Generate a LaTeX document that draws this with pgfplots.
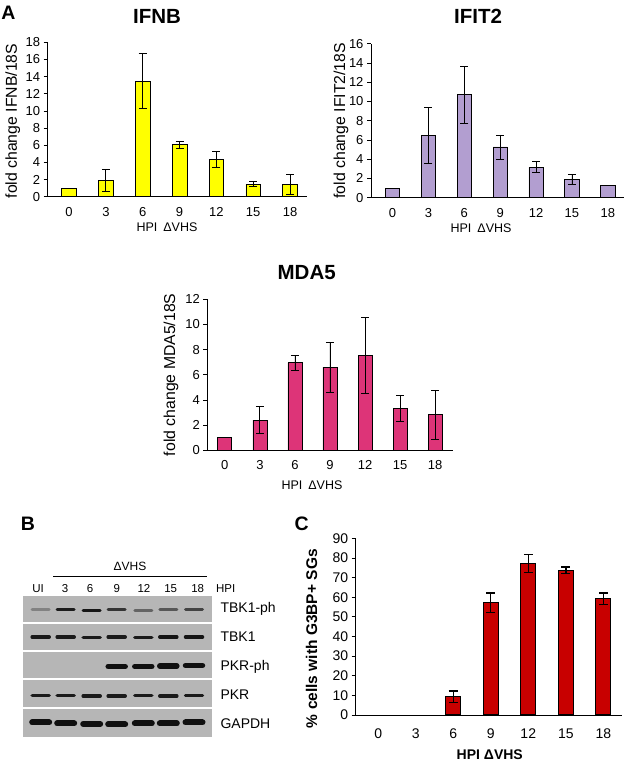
\documentclass[border=0pt]{standalone}
\usepackage{fontspec}
\setmainfont{Liberation Sans}
\usepackage{pgfplots}
\pgfplotsset{compat=1.18}

\definecolor{ifnbcol}{RGB}{255,255,0}
\definecolor{ifitcol}{RGB}{178,158,208}
\definecolor{mdacol}{RGB}{221,52,120}
\definecolor{sgcol}{RGB}{200,0,0}
\definecolor{blotbg}{RGB}{182,182,182}

\pgfplotsset{
  foldbar/.style={
    scale only axis, axis lines*=left, ymin=0,
    xtick={0,...,6}, xticklabels={0,3,6,9,12,15,18},
    major x tick style={draw=none},
    ytick style={black, line width=0.7pt},
    major tick length=4pt, tick align=outside,
    axis line style={black, line width=0.8pt},
    tick label style={font=\fontsize{13}{15}\selectfont},
    /pgf/number format/assume math mode=true,
    xticklabel style={yshift=-3pt},
    ylabel style={font=\fontsize{15.8}{18}\selectfont, anchor=center},
    xlabel style={font=\fontsize{12.5}{14}\selectfont, anchor=center},
    clip=false,
  },
  bars/.style={ybar, bar width=0.4, bar shift=0pt, draw=black, line width=0.7pt},
  errs/.style={error bars/.cd, y dir=both, y explicit,
    error bar style={black, line width=0.8pt},
    error mark options={black, line width=0.8pt, mark size=4pt, rotate=90}},
  band/.style={scatter, only marks, mark=-, scatter src=explicit,
    point meta min=0, point meta max=1,
    colormap={blot}{rgb255=(182,182,182) rgb255=(20,20,20)}},
}
\tikzset{
  lane/.style={font=\fontsize{11.5}{13}\selectfont},
  prot/.style={font=\fontsize{14}{16}\selectfont, anchor=west},
}

\begin{document}
\begin{tikzpicture}[x=1pt,y=1pt]
\useasboundingbox (0pt,0pt) rectangle (625pt,763pt);

% ---- A: IFNB
\node[font=\bfseries\fontsize{19.5}{22}\selectfont] at (8.5pt,750.5pt) {A};
\node[font=\bfseries\fontsize{20.5}{24}\selectfont] at (157pt,747pt) {IFNB};
\begin{axis}[foldbar, at={(47.7pt,566.3pt)}, anchor=south west,
  width=259.3pt, height=154.4pt, xmin=-0.58, xmax=6.46, ymax=18, ytick={0,2,...,18},
  ylabel={fold change IFNB/18S},
  ylabel style={at={(axis description cs:-0.135,0.49)}},
  xlabel={HPI\hspace{6pt}ΔVHS},
  xlabel style={at={(axis description cs:0.46,-0.198)}}]
\addplot[bars, fill=ifnbcol] coordinates {(0,1.0)};
\addplot[bars, fill=ifnbcol, errs] coordinates {
  (1,1.85) +- (0,1.28)
  (2,13.45) +- (0,3.2)
  (3,6.05) +- (0,0.4)
  (4,4.35) +- (0,0.95)
  (5,1.45) +- (0,0.28)
  (6,1.42) +- (0,1.15)};
\end{axis}

% ---- A: IFIT2
\node[font=\bfseries\fontsize{20.5}{24}\selectfont] at (478pt,747pt) {IFIT2};
\begin{axis}[foldbar, at={(371pt,565.3pt)}, anchor=south west,
  width=253pt, height=154pt, xmin=-0.6, xmax=6.45, ymax=16, ytick={0,2,...,16},
  ylabel={fold change IFIT2/18S},
  ylabel style={at={(axis description cs:-0.118,0.5)}},
  xlabel={HPI\hspace{6pt}ΔVHS},
  xlabel style={at={(axis description cs:0.435,-0.2)}}]
\addplot[bars, fill=ifitcol] coordinates {(0,1.0) (6,1.3)};
\addplot[bars, fill=ifitcol, errs] coordinates {
  (1,6.5) +- (0,2.9)
  (2,10.7) +- (0,2.95)
  (3,5.27) +- (0,1.25)
  (4,3.15) +- (0,0.57)
  (5,1.88) +- (0,0.5)};
\end{axis}

% ---- A: MDA5
\node[font=\bfseries\fontsize{20.5}{24}\selectfont] at (306.7pt,490pt) {MDA5};
\begin{axis}[foldbar, at={(207.3pt,312.7pt)}, anchor=south west,
  width=245.7pt, height=151pt, xmin=-0.5, xmax=6.51, ymax=12, ytick={0,2,...,12},
  ylabel={fold change MDA5/18S},
  ylabel style={at={(axis description cs:-0.148,0.5)}},
  xlabel={HPI\hspace{6pt}ΔVHS},
  xlabel style={at={(axis description cs:0.426,-0.23)}}]
\addplot[bars, fill=mdacol] coordinates {(0,1.0)};
\addplot[bars, fill=mdacol, errs] coordinates {
  (1,2.4) +- (0,1.08)
  (2,6.95) +- (0,0.62)
  (3,6.6) +- (0,2.0)
  (4,7.55) +- (0,3.0)
  (5,3.3) +- (0,1.03)
  (6,2.83) +- (0,1.95)};
\end{axis}

% ---- B: western blot
\node[font=\bfseries\fontsize{19.5}{22}\selectfont] at (28pt,239.7pt) {B};
\begin{axis}[at={(23pt,26.3pt)}, anchor=south west, scale only axis, hide axis,
  width=189pt, height=141.2pt, xmin=23, xmax=212, ymin=-736.7, ymax=-595.5,
  clip=false]
% strips (y given as minus the pixel row)
\addplot[fill=blotbg, draw=none] coordinates {(23,-596) (212,-596) (212,-621.7) (23,-621.7)};
\addplot[fill=blotbg, draw=none] coordinates {(23,-623.7) (212,-623.7) (212,-650) (23,-650)};
\addplot[fill=blotbg, draw=none] coordinates {(23,-652.3) (212,-652.3) (212,-678.3) (23,-678.3)};
\addplot[fill=blotbg, draw=none] coordinates {(23,-680.3) (212,-680.3) (212,-707.3) (23,-707.3)};
\addplot[fill=blotbg, draw=none] coordinates {(23,-709.3) (212,-709.3) (212,-736.7) (23,-736.7)};
% bands: lane x, row y, intensity
\addplot[band, mark size=8.5, mark options={line width=3pt, line cap=round}] table[meta=c] {
x y c
40.7 -610 0.12
65.7 -610 0.9
91.7 -610.3 0.95
116.7 -610 0.72
143.3 -610.5 0.35
168.3 -610 0.45
194 -609.5 0.6
};
\addplot[band, mark size=8.5, mark options={line width=3.5pt, line cap=round}] table[meta=c] {
x y c
40.7 -637 0.92
65.7 -637 0.92
91.7 -637.5 0.92
116.7 -637 0.92
143.3 -637.5 0.92
168.3 -637 0.96
194 -637 0.96
};
\addplot[band, mark size=8.5, mark options={line width=5.5pt, line cap=round}] table[meta=c] {
x y c
116.7 -666.5 1
143.3 -666.5 1
168.3 -666 1
194 -665.5 1
};
\addplot[band, mark size=8.5, mark options={line width=3.5pt, line cap=round}] table[meta=c] {
x y c
40.7 -695.5 0.92
65.7 -695.5 0.92
91.7 -696 0.92
116.7 -696 0.92
143.3 -695.5 0.92
168.3 -696 0.92
194 -695.5 0.92
};
\addplot[band, mark size=8.5, mark options={line width=6pt, line cap=round}] table[meta=c] {
x y c
40.7 -722.5 1
65.7 -723.5 1
91.7 -724 1
116.7 -724.5 1
143.3 -723.5 1
168.3 -723.5 1
194 -722.5 1
};
\addplot[black, line width=1.3pt] coordinates {(53.3,-576.7) (207.3,-576.7)};
\node[font=\fontsize{12}{14}\selectfont] at (axis cs:130,-566.7) {ΔVHS};
\node[lane] at (axis cs:38,-588.3) {UI};
\node[lane] at (axis cs:65,-588.3) {3};
\node[lane] at (axis cs:90,-588.3) {6};
\node[lane] at (axis cs:116.7,-588.3) {9};
\node[lane] at (axis cs:144,-588.3) {12};
\node[lane] at (axis cs:170.7,-588.3) {15};
\node[lane] at (axis cs:197.7,-588.3) {18};
\node[lane, anchor=west] at (axis cs:212.5,-588.3) {HPI};
\node[prot] at (axis cs:217,-609) {TBK1-ph};
\node[prot] at (axis cs:217,-637) {TBK1};
\node[prot] at (axis cs:217,-666.5) {PKR-ph};
\node[prot] at (axis cs:217,-695) {PKR};
\node[prot] at (axis cs:217,-723.3) {GAPDH};
\end{axis}

% ---- C: stress granules
\node[font=\bfseries\fontsize{19.5}{22}\selectfont] at (301.7pt,239.7pt) {C};
\begin{axis}[foldbar, at={(355.7pt,48pt)}, anchor=south west,
  width=266pt, height=176.7pt, xmin=-0.6, xmax=6.49, ymax=90, ytick={0,10,...,90},
  tick label style={font=\fontsize{14}{16}\selectfont},
  xticklabel style={yshift=-3pt},
  ylabel={\% cells with G3BP+ SGs},
  ylabel style={font=\bfseries\fontsize{15.5}{18}\selectfont, at={(axis description cs:-0.166,0.432)}},
  xlabel={HPI ΔVHS},
  xlabel style={font=\bfseries\fontsize{14}{16}\selectfont, at={(axis description cs:0.504,-0.226)}}]
\addplot[bars, fill=sgcol, line width=1.1pt,
  error bars/.cd, y dir=both, y explicit,
  error bar style={black, line width=1.4pt},
  error mark options={black, line width=1.4pt, mark size=4.5pt, rotate=90}] coordinates {
  (2,9.3) +- (0,2.85)
  (3,57.2) +- (0,5.0)
  (4,77.2) +- (0,4.6)
  (5,73.8) +- (0,1.6)
  (6,59.3) +- (0,2.9)};
\end{axis}
\end{tikzpicture}
\end{document}
